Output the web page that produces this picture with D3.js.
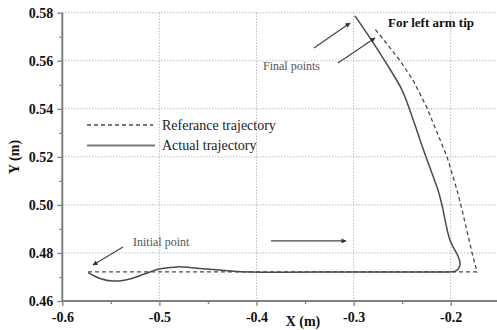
<!DOCTYPE html>
<html>
<head>
<meta charset="utf-8">
<script src="https://cdn.jsdelivr.net/npm/d3@7"></script>
<style>
  html, body { margin: 0; padding: 0; background: #fff; }
  svg { display: block; }
  svg text { font-family: "Liberation Serif", "Times New Roman", Times, "DejaVu Serif", serif; }
</style>
</head>
<body>
<svg id="chart" width="497" height="330"></svg>
<script>
// ---- Data ----
const xTicks = [-0.6, -0.5, -0.4, -0.3, -0.2];
const xTickLabels = ["-0.6", "-0.5", "-0.4", "-0.3", "-0.2"];
const xMinorTicks = [-0.55, -0.45, -0.35, -0.25, -0.15];
const yTicks = [0.46, 0.48, 0.50, 0.52, 0.54, 0.56, 0.58];
const yTickLabels = ["0.46", "0.48", "0.50", "0.52", "0.54", "0.56", "0.58"];
const yMinorTicks = [0.47, 0.49, 0.51, 0.53, 0.55, 0.57];

// Reference trajectory (dashed)
const refX = [-0.5735, -0.1729, -0.1780, -0.1883, -0.1935, -0.2038, -0.2244, -0.2389, -0.2522, -0.2625, -0.2780];
const refY = [0.4721, 0.4721, 0.4800, 0.4979, 0.5062, 0.5200, 0.5404, 0.5520, 0.5600, 0.5654, 0.5732];

// Actual trajectory (solid)
const actX = [-0.5735, -0.5612, -0.5478, -0.5303, -0.5097, -0.5004, -0.4819, -0.4583, -0.4325, -0.4068, -0.3000, -0.2200, -0.2008, -0.1946, -0.1910, -0.1905, -0.1925, -0.2008, -0.2090, -0.2131, -0.2255, -0.2430, -0.2502, -0.2667, -0.2811, -0.2986];
const actY = [0.4718, 0.4694, 0.4683, 0.4692, 0.4721, 0.4733, 0.4742, 0.4735, 0.4727, 0.4721, 0.4721, 0.4721, 0.4721, 0.4725, 0.4742, 0.4762, 0.4787, 0.4854, 0.5000, 0.5062, 0.5200, 0.5404, 0.5479, 0.5592, 0.5683, 0.5787];

const legendLabels = ["Referance trajectory", "Actual trajectory"];
const titleText = "For left arm tip";
const xLabel = "X (m)";
const yLabel = "Y (m)";

// Annotation arrows in data coords: [x1, y1, x2, y2]
const finalArrow1 = [-0.3408, 0.5653, -0.3037, 0.5757];
const finalArrow2 = [-0.3161, 0.5591, -0.2780, 0.5695];
const initArrow = [-0.5375, 0.4825, -0.5684, 0.4750];
const dirArrow = [-0.3851, 0.4850, -0.3078, 0.4850];

// ---- Layout ----
const W = 497, H = 330;
const mLeft = 62.3, mTop = 12.7, mBottom = 301;
const svg = d3.select("#chart");

const x = d3.scaleLinear().domain([-0.6, -0.1]).range([mLeft, mLeft + 971 * 0.5]);
const y = d3.scaleLinear().domain([0.46, 0.58]).range([mBottom, mTop]);

const serif = '"Liberation Serif", "Times New Roman", Times, "DejaVu Serif", serif';
const axisColor = "#808080";
const lineColor = "#4a4a4a";

svg.append("defs").append("marker")
  .attr("id", "ah").attr("viewBox", "0 0 10 10")
  .attr("refX", 9).attr("refY", 5)
  .attr("markerWidth", 7).attr("markerHeight", 5)
  .attr("markerUnits", "userSpaceOnUse")
  .attr("orient", "auto")
  .append("path").attr("d", "M0,0 L10,5 L0,10 Z").attr("fill", "#333");

// ---- Grid ----
const grid = svg.append("g");
grid.selectAll("line.vg").data(xTicks.filter(d => d > -0.6)).enter().append("line")
  .attr("x1", d => x(d)).attr("x2", d => x(d))
  .attr("y1", y(0.58)).attr("y2", mBottom)
  .attr("stroke", "#9a9a9a").attr("stroke-width", 1).attr("stroke-dasharray", "1,2");
grid.selectAll("line.hg").data(yTicks.filter(d => d > 0.46)).enter().append("line")
  .attr("x1", mLeft).attr("x2", W)
  .attr("y1", d => y(d)).attr("y2", d => y(d))
  .attr("stroke", "#9a9a9a").attr("stroke-width", 1).attr("stroke-dasharray", "1,2");

// ---- Axes ----
const xAxis = d3.axisBottom(x).tickValues(xTicks).tickSize(5).tickPadding(6)
  .tickFormat((d, i) => xTickLabels[i]);
const xMinor = d3.axisBottom(x).tickValues(xMinorTicks).tickSize(3).tickFormat("");
const yAxis = d3.axisLeft(y).tickValues(yTicks).tickSize(5).tickPadding(4)
  .tickFormat((d, i) => yTickLabels[i]);
const yMinor = d3.axisLeft(y).tickValues(yMinorTicks).tickSize(3).tickFormat("");

function styleAxis(g) {
  g.attr("font-family", null);
  g.select(".domain").remove();
  g.selectAll("line").attr("stroke", axisColor).attr("stroke-width", 1.3);
  g.selectAll("text").attr("fill", "#111").style("font-family", serif)
    .style("font-weight", "bold").style("font-size", "14px");
}
svg.append("g").attr("transform", `translate(0,${mBottom})`).call(xMinor).call(styleAxis);
svg.append("g").attr("transform", `translate(0,${mBottom})`).call(xAxis).call(styleAxis);
svg.append("g").attr("transform", `translate(${mLeft},0)`).call(yMinor).call(styleAxis);
svg.append("g").attr("transform", `translate(${mLeft},0)`).call(yAxis).call(styleAxis);

// axis lines
svg.append("line").attr("x1", mLeft).attr("x2", W).attr("y1", mBottom).attr("y2", mBottom)
  .attr("stroke", axisColor).attr("stroke-width", 2);
svg.append("line").attr("x1", mLeft).attr("x2", mLeft).attr("y1", y(0.58)).attr("y2", mBottom)
  .attr("stroke", axisColor).attr("stroke-width", 2);

function txt(xp, yp, s, size, weight, fill) {
  return svg.append("text").attr("x", xp).attr("y", yp)
    .style("font-family", serif).style("font-size", size + "px")
    .style("font-weight", weight).attr("fill", fill).text(s);
}

// axis titles
txt(303, 326, xLabel, 14, "bold", "#111").attr("text-anchor", "middle");
txt(0, 0, yLabel, 14, "bold", "#111").attr("text-anchor", "middle")
  .attr("transform", "translate(19,157) rotate(-90)");

// ---- Lines ----
const refData = refX.map((v, i) => [v, refY[i]]);
const actData = actX.map((v, i) => [v, actY[i]]);

svg.append("path").datum(refData)
  .attr("d", d3.line().x(d => x(d[0])).y(d => y(d[1])).curve(d3.curveLinear))
  .attr("fill", "none").attr("stroke", lineColor).attr("stroke-width", 1.3)
  .attr("stroke-dasharray", "4,3");

svg.append("path").datum(actData)
  .attr("d", d3.line().x(d => x(d[0])).y(d => y(d[1])).curve(d3.curveCatmullRom.alpha(0.5)))
  .attr("fill", "none").attr("stroke", lineColor).attr("stroke-width", 1.5);

// ---- Legend ----
svg.append("line").attr("x1", 87).attr("x2", 153).attr("y1", 125).attr("y2", 125)
  .attr("stroke", lineColor).attr("stroke-width", 1.3).attr("stroke-dasharray", "4,3");
svg.append("line").attr("x1", 87).attr("x2", 155).attr("y1", 145.5).attr("y2", 145.5)
  .attr("stroke", "#777").attr("stroke-width", 1.8);
txt(162, 129.5, legendLabels[0], 14, "normal", "#222");
txt(162, 150, legendLabels[1], 14, "normal", "#222");

// ---- Annotations ----
txt(388, 27, titleText, 13, "bold", "#111");
txt(263, 70, "Final points", 12, "normal", "#555");
txt(133, 246, "Initial point", 12, "normal", "#555");

function arrow(a) {
  svg.append("line")
    .attr("x1", x(a[0])).attr("y1", y(a[1])).attr("x2", x(a[2])).attr("y2", y(a[3]))
    .attr("stroke", "#444").attr("stroke-width", 1.2).attr("marker-end", "url(#ah)");
}
arrow(finalArrow1);
arrow(finalArrow2);
arrow(initArrow);
arrow(dirArrow);
</script>
</body>
</html>
